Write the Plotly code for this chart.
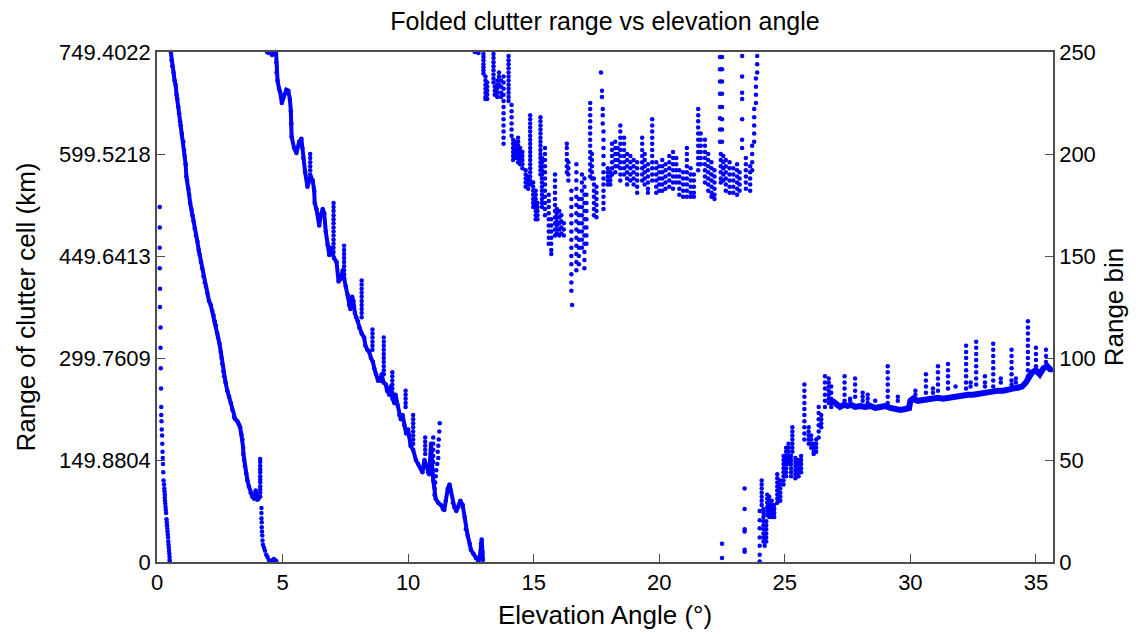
import plotly.graph_objects as go

# ---------------- data (elevation angle in deg, range bin) ----------------
# segment A: sparse dots near 0 deg
seg_a_x = [0.11,0.11,0.11,0.11,0.12,0.12,0.14,0.14,0.15,0.16,0.17,0.17,0.18,0.19,0.2,0.21,0.22,0.23,0.24,0.25,0.26,0.28,0.29,0.3,0.31,0.31,0.32,0.33,0.34,0.35,0.36,0.38,0.39,0.4,0.41,0.42,0.43,0.44,0.45,0.46,0.47,0.48,0.49,0.5,0.5,0.51]
seg_a_y = [174,164,154,144,134,125,115,105,95,85,76,72,69,65,62,58,54,51,48,44,40,38,36,34.5,33,31.5,30,28.5,27,25.5,24,21,19.5,18,16.5,15,13.5,12,10,8.5,7,5.5,4,2.5,1,0]

# segment B: dense band
band_b_x = [0.55,0.58,0.61,0.66,0.7,0.74,0.78,0.81,0.85,0.88,0.92,0.94,0.99,1.05,1.08,1.1,1.14,1.17,1.2,1.25,1.28,1.32,1.37,1.41,1.46,1.5,1.55,1.61,1.66,1.7,1.75,1.8,1.85,1.9,1.95,2.0,2.07,2.14,2.2,2.25,2.3,2.34,2.4,2.43,2.49,2.54,2.57,2.6,2.64,2.67,2.73,2.8,2.87,2.94,3.0,3.07,3.12,3.2,3.26,3.31,3.36,3.4,3.43,3.44,3.47,3.5,3.55,3.6,3.66,3.73,3.8,3.87,3.93,3.97,4.0,4.04]
band_b_y = [250,246,243,240,236,234,229,227,223,220,216,214,210,206,202,199,195,189,187,183,180,176,173,170,167,163.5,160,157,153,150.5,147,144,140,137,135,132,128,126,123,121,118,116,112,110,107,103,100,97,93.5,91,88,84,81,78,74.5,71,70,69,67.5,66,62.5,60,56,53,50,47,43.5,40,37,34,32,31,35,33,30.5,31]

cols_b = [
    (4.11, [50.5,49,47,45.5,44,42,40.5,39,37,35.5,34,32]),
    (4.16, [26.5,24,21.5]), (4.17, [19.5,17]), (4.18, [15]), (4.19, [13]),
    (4.2, [10.5]), (4.22, [8.5]), (4.26, [7]), (4.3, [5.5]), (4.35, [3.5]),
    (4.4, [2.5]), (4.45, [1]), (4.5, [0.2]), (4.6, [0.8]), (4.65, [1.5]),
    (4.7, [1]), (4.75, [0.5]),
]

# segment C: jagged band
band_c_x = [4.74,4.75,4.76,4.8,4.86,4.9,4.97,5.06,5.15,5.23,5.29,5.33,5.35,5.36,5.46,5.55,5.66,5.75,5.79,5.83,5.9,5.99,6.05,6.12,6.2,6.26,6.28,6.35,6.46,6.52,6.6,6.66,6.72,6.79,6.86,6.92,6.97,7.05,7.15,7.23,7.32,7.4,7.45,7.52,7.6,7.65,7.7,7.77,7.82,7.88,7.93,8.0,8.05,8.15,8.25,8.3,8.38,8.45,8.52,8.6,8.65,8.72,8.8,8.88,8.95,9.02,9.11,9.16,9.25,9.3,9.38,9.45,9.5,9.58,9.65,9.71,9.78,9.85,9.92,10.0,10.04,10.1,10.2,10.31,10.4,10.5,10.57,10.65,10.72,10.8,10.84,10.91,10.95,11.0,11.1,11.2,11.3,11.38,11.44,11.5,11.58,11.65,11.7,11.78,11.84,11.92,12.0,12.08,12.17,12.25,12.3,12.37,12.45,12.5,12.6,12.7,12.8,12.86,12.9,12.93,12.96,12.98]
band_c_y = [250,245,240,236,232,230.5,225,229,231.5,231,227,221,215,208.5,203,200.5,206,207.5,203,198,191,184,187,189,187,182,176,173,165,170,173,171,162,155.5,150.5,154,152,149,147,137.5,139,143,139,135,131,126,124,130,128,122,120,118,115,112,110,106,104,103,100,98,95,92,89,89,92,88,87,84,82,86,80,78,82,77,72,70,72,67,63,65,62,57,55,50,48,46,44,50,47,44,43,58,50,40,31,29,28,26,25.5,30,36,38,35,29,27,25,27,30,28,22,16,13,9,6,4,2,0.5,3,9,11,5,1]

cols_c = [
    (4.38, [250]), (4.45, [249.5]), (4.52, [250]), (4.58, [248.5]), (4.64, [249]), (4.7, [250]),
    (6.1, [200,198,196,194,192,190,188]),
    (7.03, [176,174,172,170,168,166,164,162,160,158,156,154,152]),
    (7.45, [155,153,151,149,147,145,143,141,139]),
    (8.15, [138,136,134,132,130,128,126,124,122,120]),
    (8.58, [114,112,110,108,106,104]),
    (9.03, [110,108,106,104,102,100,98,96,94,92]),
    (9.37, [93,91,89,87,85,83]),
    (9.9, [84,82,80,78,76]),
    (10.2, [72,70,68,66,64,62,60,58]),
    (10.68, [61,59,57,55,53]),
    (11.26, [68]), (11.24, [64]), (11.22, [60]), (11.2, [57,51]), (11.18, [54]),
    (11.16, [48]), (11.12, [45]), (11.1, [42]), (11.08, [39]), (11.06, [36]), (11.05, [33]),
    (11.0, [61,58,55,52,49]),
]

# segment D: scattered cloud near the top
cols_d = [
    (12.65,[250]),(12.72,[250]),(12.8,[249.5]),
    (13.0,[249,247.5,246,244,242.5,241,239.5]),
    (13.08,[238,236,234,232,230,228,227]),
    (13.15,[235,233,231,229,227]),
    (13.4,[249,247,245,243,241,239,237,235]),
    (13.45,[233,231,229]),
    (13.55,[236,234,232,230,228]),
    (13.62,[240,238,236,234]),
    (13.7,[236,233,230,228]),
    (13.8,[238,235,232,229,226,223,220,217,214,211,208,205]),
    (14.0,[248,246,244,242,240,238,236,234,232,230,228,226]),
    (14.12,[224,221,218,215,212,209]),
    (14.18,[207,205,203,201,199,197]),
    (14.3,[206,204,202,200,198]),
    (14.38,[208,206,204,202,200,198,196]),
    (14.46,[203,201,199,197,195]),
    (14.55,[201,199,197,195,193]),
    (14.68,[192,190,188,186,184]),
    (14.78,[189,187,185,183]),
    (14.86,[219,217,215,213,211,209,207,205,203,201,199,197,195,193,191,189,187,185]),
    (14.98,[186,184,182,180,178,176,174]),
    (15.08,[182,180,178,176,174,172,170,168]),
    (15.15,[176,174,172,170,168]),
    (15.27,[218,216,214,212,210,208,206,204,202,200,198,196,194,192,190]),
    (15.33,[198,196,194,192,190,188,186,184,182,180,178,176,174]),
    (15.45,[203,200,197,194,191,188,185,182,179,176,173,170]),
    (15.6,[180,177,174,171,168,165,162,159,156]),
    (15.7,[168,165,162,159,156,153,151]),
    (15.85,[190,187,184,181,178,175,172,169,166,163,160]),
    (15.92,[173,171,169,167,165,163,161]),
    (16.02,[172,169,166,163,160]),
    (16.1,[170,167,164,161]),
    (16.2,[166,163,160]),
    (16.32,[205,203,200,197,194,191]),
    (16.38,[196,193,190,187]),
    (16.5,[182,178,174,170,166,162,158,154,150,146,141,137,133]),
    (16.53,[126]),
    (16.7,[195,191,187,183,179,175,171,167,163,159,155,151,147,143]),
    (16.8,[178,174,170,166,162,158,154,150,146]),
    (16.92,[190,186,182,178,174,170,166,162,158,154]),
    (17.02,[188,184,180,176,172,168,164,160,156,152,148,144]),
    (17.1,[180,176,172,168,164,160,156]),
    (17.25,[225,222,219,216,213,210,207,204,201,198,195,192,189]),
    (17.32,[200,197,194,191,188]),
    (17.4,[188,185,182,179,176,173,170]),
    (17.5,[184,181,178,175,172,169]),
    (17.68,[240]),(17.72,[231,228]),(17.75,[222,219,215]),
    (17.78,[211,207,203,199,195,191,188,185,182,179,176,173]),
    (17.95,[193,191,189,187,185]),
    (18.05,[191,189,187,185]),
    (18.12,[205,202,199,196,193,190]),
    (18.25,[206,203,200,197,194,191]),
    (18.35,[203,200,197,194]),
    (18.45,[214,211,208,205,202,199,196,193,190,187]),
    (18.6,[208,205,202,199,196,193,190]),
    (18.72,[200,197,194,191,188,185]),
    (18.85,[199,196,193,190,187]),
    (18.98,[197,194,191,188,185]),
    (19.12,[196,193,190,187,184,181]),
    (19.32,[208,205,202,199,196,193,190,187]),
    (19.42,[200,197,194,191,188,185]),
    (19.55,[195,192,189,186,183,181]),
    (19.72,[217,214,211,208,205,202,199,196,193,190,187]),
    (19.88,[196,193,190,187,184,181]),
    (20.0,[194,191,188,185,182]),
    (20.12,[197,194,191,188,185,182]),
    (20.25,[195,192,189,186,183]),
    (20.4,[199,196,193,190,187,184]),
    (20.55,[201,198,195,192,189,186,183]),
    (20.68,[198,195,192,189,186]),
    (20.8,[192,189,186,183,180]),
    (20.95,[191,188,185,182,179]),
    (21.1,[203,200,197,194,191,188,185,182,179]),
    (21.25,[193,190,187,184,181,179]),
    (21.38,[190,187,184,181,179]),
    (21.55,[222,219,216,213,210,207,204,201,198,195,192]),
    (21.65,[210,207,204,201,198,195]),
    (21.82,[207,204,201,198,195,192,189,186]),
    (21.95,[200,197,194,191,188,185,182]),
    (22.08,[196,193,190,187,184,181,179]),
    (22.2,[192,189,186,183,180,178]),
    (22.42,[247.5,241.5,235.5,229.5,223,217.5,212,206]),
    (22.5,[247.5,241.5,235.5,229.5,223,217,212,206]),
    (22.45,[200,197,194,191,188,186]),
    (22.55,[199,196,193,190,187]),
    (22.65,[197,194,191,188,185,182]),
    (22.8,[196,193,190,187,184,181]),
    (22.95,[193,190,187,184,181]),
    (23.1,[195,192,189,186,183,180]),
    (23.2,[191,188,185,182]),
    (23.3,[248,238,230,227,217,207,203]),
    (23.45,[198,195,192,189,186,183]),
    (23.62,[194,191,188,185,182]),
    (23.7,[204,200,196,192]),
    (23.78,[222,218,214,210,206]),
    (23.85,[237,233,229,225]),
    (23.9,[248,244,240]),
]

# segment E: rising dots then a slowly climbing band
cols_e = [
    (22.5,[9,2]),
    (23.4,[36,26,16,15,6,5]),
    (24.0,[25,20.5,16.5,12,8,3.5,0.2]),
    (24.08,[40,38,36,34,32,30,28]),
    (24.15,[26,24,22,20,18,16,14,12,10]),
    (24.2,[14,12,10,8]),
    (24.26,[20,18,16,14,12,10]),
    (24.3,[33,31,29,27,25,23]),
    (24.38,[32,30,28,26,24,22]),
    (24.48,[30,28,26,24,22]),
    (24.58,[28,26,24,22]),
    (24.7,[43,41,39,37,35,33,31,29]),
    (24.82,[40,38,36,34,32,30]),
    (24.95,[52,50,48,46,44,42,40,38]),
    (25.05,[56,54,52,50,48,46,44,42]),
    (25.15,[58,56,54,52,50,48]),
    (25.25,[52,50,48,46,44,42]),
    (25.3,[66,64,62,60,58,56,54]),
    (25.42,[51,49,47,45,43,41]),
    (25.55,[50,48,46,44,42]),
    (25.65,[52,50,48,46,44]),
    (25.78,[87,84,81,78,75,72,69,66,63,60]),
    (25.95,[66,64,62,60,58]),
    (26.05,[62,60,58,56]),
    (26.15,[58,56,54,53]),
    (26.25,[60,58,56,54]),
    (26.35,[76,73,70,67,64,61]),
    (26.45,[72,70,68,66]),
    (26.6,[91,88,85,82,79,76]),
    (26.75,[90,88,86,84,82,80,78]),
    (26.85,[86,83,80,78,76]),
    (27.38,[91,88,85,82,79]),
    (27.6,[80,79]),
    (27.8,[90,87,84,81]),
    (28.1,[83,81,79]),
    (28.3,[82,80,78]),
    (28.6,[79]),
    (29.1,[96,93,90,87,84,81,78]),
    (29.5,[81,79]),
    (30.2,[84,82]),
    (30.62,[92,89,86,83]),
    (30.9,[85,83]),
    (31.1,[96,93,90,87,84]),
    (31.5,[97,94,91,88,85]),
    (31.8,[86]),
    (32.22,[106,103,100,97,94,91,88,85]),
    (32.4,[88,86]),
    (32.62,[108,105,102,99,96,93,90,87]),
    (32.97,[91,88,86]),
    (33.3,[107,104,101,98,95,92,89,86]),
    (33.6,[90,88]),
    (34.03,[104,101,98,95,92,89,87]),
    (34.2,[90,88]),
    (34.68,[118,115,112,109,106,103,100,97,94,91]),
    (35.0,[105,102,99,96]),
    (35.4,[104,101,98]),
]

band_e_x = [26.9,27.05,27.2,27.35,27.5,27.65,27.8,28.0,28.2,28.4,28.6,28.8,29.0,29.2,29.4,29.6,29.8,29.95,30.0,30.1,30.3,30.5,30.7,30.9,31.1,31.3,31.5,31.7,31.9,32.1,32.3,32.5,32.7,32.9,33.1,33.3,33.5,33.7,33.9,34.1,34.3,34.45,34.6,34.75,34.85,35.0,35.15,35.3,35.45,35.6]
band_e_y = [79,77,76,77,76.5,77,76,76.5,76,76.5,75.5,76,76.5,75.5,75,74.5,75,75.5,79,80,79,79.5,80,80,80.5,80,80.5,81,81,81.5,82,82,82.5,83,83,83.5,84,84,84.5,85,85,86,88,92,93,94,92,95,96,94]

# axes
x_ticks = [0, 5, 10, 15, 20, 25, 30, 35]
x_max = 35.68
left_ticks = [0, 149.8804, 299.7609, 449.6413, 599.5218, 749.4022]
left_tick_labels = ["0", "149.8804", "299.7609", "449.6413", "599.5218", "749.4022"]
right_ticks = [0, 50, 100, 150, 200, 250]

BLUE = "#0000ff"
AXC = "#4d4d4d"


def flatten(cols):
    xs, ys = [], []
    for x, vals in cols:
        for v in vals:
            xs.append(x)
            ys.append(v)
    return xs, ys


fig = go.Figure()
# anchor trace for left (km) axis
fig.add_trace(go.Scatter(x=[], y=[], yaxis="y", showlegend=False))

for (bx, by), w in [((band_b_x, band_b_y), 4), ((band_c_x, band_c_y), 4), ((band_e_x, band_e_y), 6)]:
    fig.add_trace(go.Scatter(x=bx, y=by, mode="lines", yaxis="y2",
                             line=dict(color=BLUE, width=w), showlegend=False,
                             hoverinfo="skip"))

dot_sets = [(seg_a_x, seg_a_y), flatten(cols_b), flatten(cols_c), flatten(cols_d), flatten(cols_e)]
for dx, dy in dot_sets:
    fig.add_trace(go.Scatter(x=dx, y=dy, mode="markers", yaxis="y2", cliponaxis=False,
                             marker=dict(color=BLUE, size=4.5, line=dict(width=0)),
                             showlegend=False))
for bx, by in [(band_b_x, band_b_y), (band_c_x, band_c_y), (band_e_x, band_e_y)]:
    fig.add_trace(go.Scatter(x=bx, y=by, mode="markers", yaxis="y2", cliponaxis=False,
                             marker=dict(color=BLUE, size=4.5, line=dict(width=0)),
                             showlegend=False))

FONT = "Liberation Sans, Arial, sans-serif"
FS = 22

fig.update_layout(
    width=1136, height=636,
    margin=dict(l=157, r=83, t=52, b=74),
    paper_bgcolor="white", plot_bgcolor="white",
    font=dict(family=FONT, size=FS, color="black"),
    showlegend=False,
    title=dict(text="Folded clutter range vs elevation angle", x=0.5, xref="paper",
               xanchor="center", y=1 - 21 / 636, yref="container", yanchor="middle",
               font=dict(family=FONT, size=25, color="black")),
    xaxis=dict(range=[0, x_max], tickvals=x_ticks, ticks="inside", ticklen=8,
               tickcolor=AXC, showline=True, linecolor=AXC, linewidth=1.5, mirror=True,
               showgrid=False, zeroline=False,
               title=dict(text="Elevation Angle (°)", standoff=12)),
    yaxis=dict(range=[0, 749.4022], tickvals=left_ticks, ticktext=left_tick_labels,
               ticks="inside", ticklen=8, tickcolor=AXC, showline=True, linecolor=AXC,
               linewidth=1.5, showgrid=False, zeroline=False,
               title=dict(text="Range of clutter cell (km)", standoff=16)),
    yaxis2=dict(range=[0, 250], tickvals=right_ticks, overlaying="y", side="right",
                ticks="inside", ticklen=8, tickcolor=AXC, showline=True, linecolor=AXC,
                linewidth=1.5, showgrid=False, zeroline=False,
                title=dict(text="Range bin", standoff=10)),
)

fig.write_html("out.html")
